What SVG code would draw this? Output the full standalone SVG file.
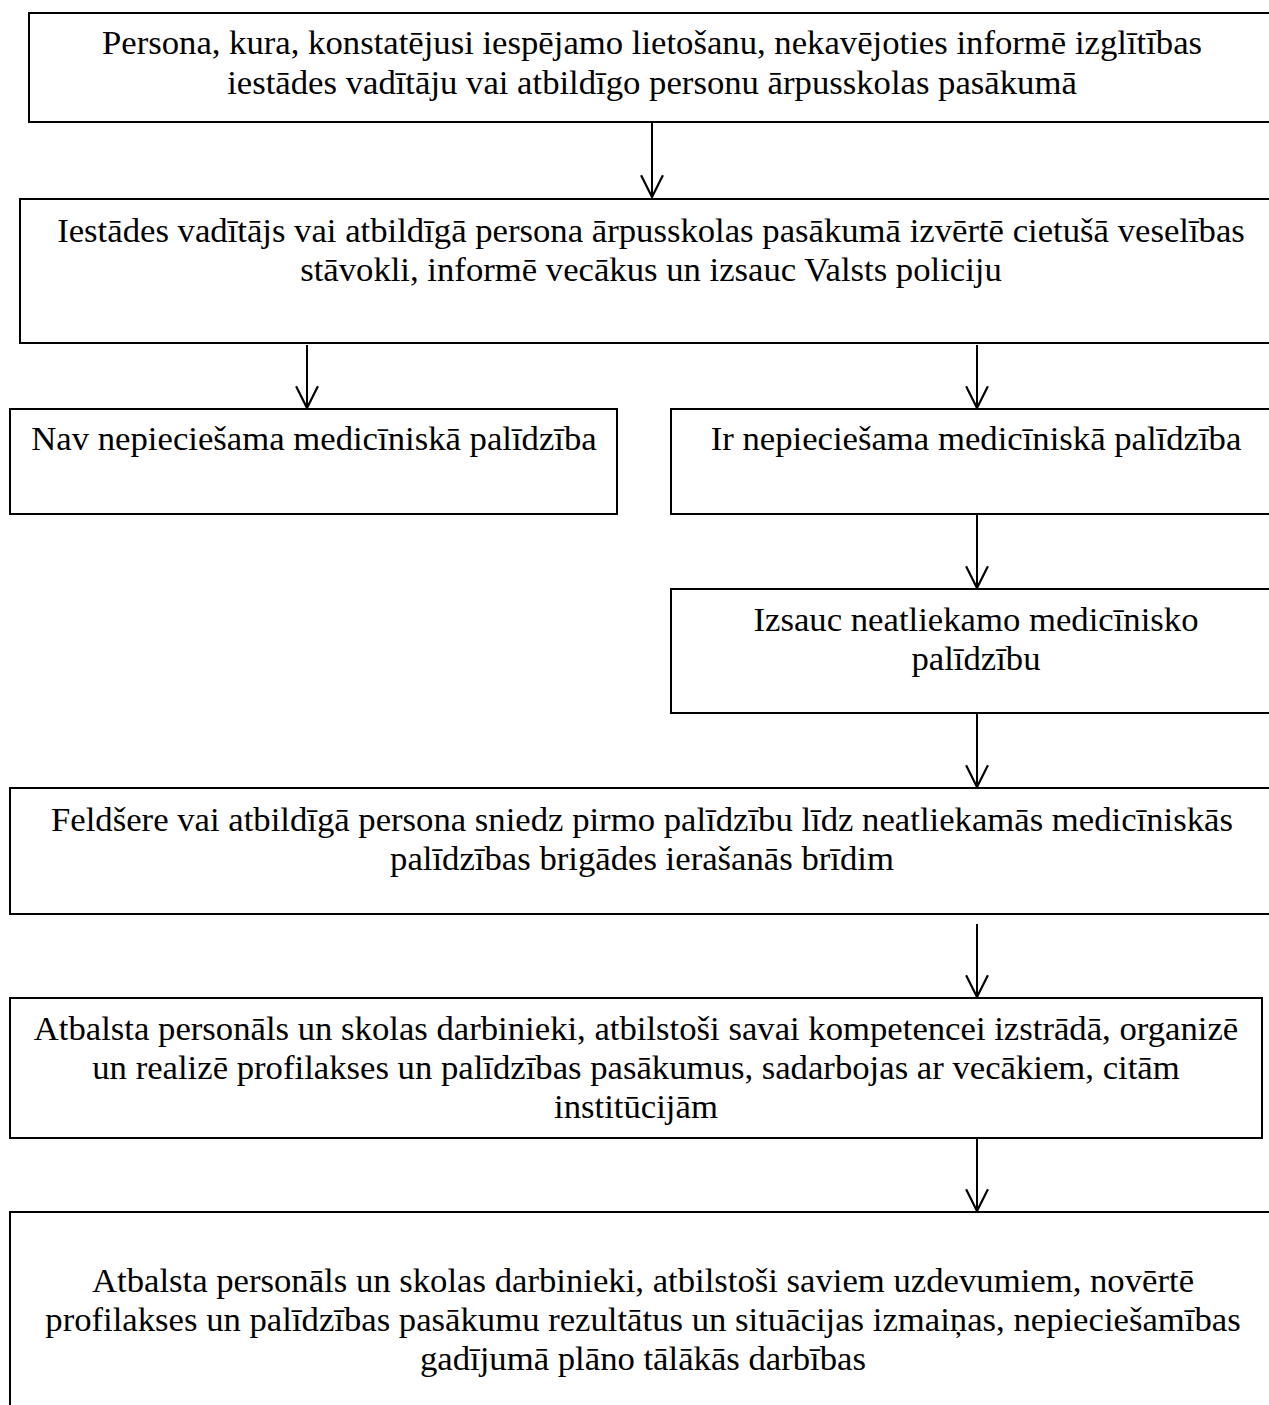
<svg xmlns="http://www.w3.org/2000/svg" width="1269" height="1405" viewBox="0 0 1269 1405">
<defs>
<style>
.box{fill:#fff;stroke:#000;stroke-width:2}
.t{font-family:"Liberation Serif","Times New Roman",serif;font-size:34.7px;fill:#000;text-anchor:middle}
.c{stroke:#000;stroke-width:2;fill:none}
</style>
<marker id="arr" markerWidth="24" markerHeight="24" refX="21" refY="11" orient="auto" markerUnits="userSpaceOnUse" viewBox="0 0 22 22">
<path d="M1,1 L21,11 L1,21" fill="none" stroke="#000" stroke-width="2"/>
</marker>
</defs>
<rect width="1269" height="1405" fill="#fff"/>
<g id="n1"><rect class="box" x="29" y="13" width="1260" height="109"/>
<text class="t" x="652" y="54">Persona, kura, konstatējusi iespējamo lietošanu, nekavējoties informē izglītības</text>
<text class="t" x="652" y="94">iestādes vadītāju vai atbildīgo personu ārpusskolas pasākumā</text></g>
<g id="n2"><rect class="box" x="20" y="199" width="1270" height="144"/>
<text class="t" x="651" y="242">Iestādes vadītājs vai atbildīgā persona ārpusskolas pasākumā izvērtē cietušā veselības</text>
<text class="t" x="651" y="281">stāvokli, informē vecākus un izsauc Valsts policiju</text></g>
<g id="n3"><rect class="box" x="10" y="409" width="607" height="105"/>
<text class="t" x="314" y="450">Nav nepieciešama medicīniskā palīdzība</text></g>
<g id="n4"><rect class="box" x="671" y="409" width="620" height="105"/>
<text class="t" x="976" y="450">Ir nepieciešama medicīniskā palīdzība</text></g>
<g id="n5"><rect class="box" x="671" y="589" width="620" height="124"/>
<text class="t" x="976" y="631">Izsauc neatliekamo medicīnisko</text>
<text class="t" x="976" y="670">palīdzību</text></g>
<g id="n6"><rect class="box" x="10" y="788" width="1280" height="126"/>
<text class="t" x="642" y="831">Feldšere vai atbildīgā persona sniedz pirmo palīdzību līdz neatliekamās medicīniskās</text>
<text class="t" x="642" y="870">palīdzības brigādes ierašanās brīdim</text></g>
<g id="n7"><rect class="box" x="10" y="998" width="1252" height="140"/>
<text class="t" x="636" y="1040">Atbalsta personāls un skolas darbinieki, atbilstoši savai kompetencei izstrādā, organizē</text>
<text class="t" x="636" y="1079">un realizē profilakses un palīdzības pasākumus, sadarbojas ar vecākiem, citām</text>
<text class="t" x="636" y="1118">institūcijām</text></g>
<g id="n8"><rect class="box" x="10" y="1212" width="1280" height="220"/>
<text class="t" x="643" y="1292">Atbalsta personāls un skolas darbinieki, atbilstoši saviem uzdevumiem, novērtē</text>
<text class="t" x="643" y="1331">profilakses un palīdzības pasākumu rezultātus un situācijas izmaiņas, nepieciešamības</text>
<text class="t" x="643" y="1370">gadījumā plāno tālākās darbības</text></g>
<g id="connectors">
<line class="c" x1="652" y1="123" x2="652" y2="197" marker-end="url(#arr)"/>
<line class="c" x1="307" y1="345" x2="307" y2="408" marker-end="url(#arr)"/>
<line class="c" x1="977" y1="345" x2="977" y2="408" marker-end="url(#arr)"/>
<line class="c" x1="977" y1="515" x2="977" y2="588" marker-end="url(#arr)"/>
<line class="c" x1="977" y1="714" x2="977" y2="787" marker-end="url(#arr)"/>
<line class="c" x1="977" y1="924" x2="977" y2="997" marker-end="url(#arr)"/>
<line class="c" x1="977" y1="1139" x2="977" y2="1211" marker-end="url(#arr)"/>
</g>
</svg>
